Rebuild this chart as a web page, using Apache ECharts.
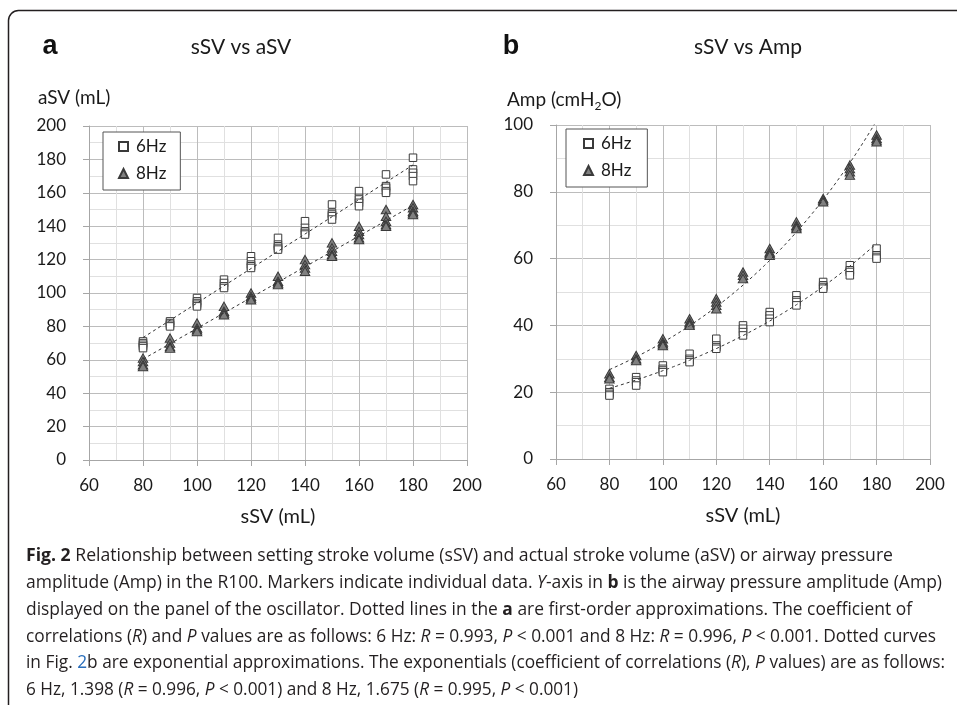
<!DOCTYPE html>
<html><head><meta charset="utf-8">
<script src="https://cdn.jsdelivr.net/npm/echarts@6/dist/echarts.min.js"></script>
<style>html,body{margin:0;padding:0;background:#fff}#c{width:957px;height:705px}</style>
</head><body><div id="c"></div>
<script>
// ---------- data ----------
const sSV = [80, 90, 100, 110, 120, 130, 140, 150, 160, 170, 180];
const aSV_6Hz = [
  [71, 70, 69, 68, 67], [83, 82, 81, 80], [97, 95, 94, 93, 92], [108, 106, 104, 103],
  [122, 119, 117, 116, 115], [133, 129, 128, 127, 126], [143, 139, 137, 136, 135],
  [153, 148, 147, 146, 144], [161, 157, 156, 154, 152], [171, 164, 163, 161, 160],
  [181, 174, 172, 170, 167]
];
const aSV_8Hz = [
  [61, 59, 57, 56], [73, 70, 68, 67], [82, 79, 78, 77], [92, 89, 88, 87],
  [100, 98, 97, 96], [110, 107, 106, 105], [120, 117, 115, 113],
  [130, 127, 125, 123, 122], [140, 137, 135, 133, 132], [150, 146, 143, 141, 140],
  [153, 151, 149, 148, 147]
];
const amp_6Hz = [
  [21, 20, 19.5, 19], [24.5, 23.5, 23, 22], [28, 27, 26.5, 26], [31.5, 30, 29.5, 29],
  [36, 34, 33.5, 33], [40, 39, 38, 37], [44, 43, 42, 41], [49, 47.5, 47, 46],
  [53, 52, 51.5, 51], [58, 56.5, 56, 55], [63, 61, 60.5, 60]
];
const amp_8Hz = [
  [25.5, 24.5, 24], [31, 30, 29.5], [36, 35, 34.5, 34], [42, 41, 40.5, 40],
  [48, 47, 46, 45], [56, 55, 54], [63, 62, 61.5, 61], [71, 70, 69.5, 69],
  [78, 77.5, 77], [88, 87, 86, 85], [97, 96, 95.5, 95]
];
const seriesNames = ['6Hz', '8Hz'];
const panelTitles = ['sSV vs aSV', 'sSV vs Amp'];
const panelLetters = ['a', 'b'];
const xAxisTitle = 'sSV (mL)';
const captionLines = [
  [['b', 'Fig. 2'], ['n', ' Relationship between setting stroke volume (sSV) and actual stroke volume (aSV) or airway pressure']],
  [['n', 'amplitude (Amp) in the R100. Markers indicate individual data. '], ['i', 'Y'], ['n', '-axis in '], ['b', 'b'], ['n', ' is the airway pressure amplitude (Amp)']],
  [['n', 'displayed on the panel of the oscillator. Dotted lines in the '], ['b', 'a'], ['n', ' are first-order approximations. The coefficient of']],
  [['n', 'correlations ('], ['i', 'R'], ['n', ') and '], ['i', 'P'], ['n', ' values are as follows: 6 Hz: '], ['i', 'R'], ['n', ' = 0.993, '], ['i', 'P'], ['n', ' < 0.001 and 8 Hz: '], ['i', 'R'], ['n', ' = 0.996, '], ['i', 'P'], ['n', ' < 0.001. Dotted curves']],
  [['n', 'in Fig. '], ['l', '2'], ['n', 'b are exponential approximations. The exponentials (coefficient of correlations ('], ['i', 'R'], ['n', '), '], ['i', 'P'], ['n', ' values) are as follows:']],
  [['n', '6 Hz, 1.398 ('], ['i', 'R'], ['n', ' = 0.996, '], ['i', 'P'], ['n', ' < 0.001) and 8 Hz, 1.675 ('], ['i', 'R'], ['n', ' = 0.995, '], ['i', 'P'], ['n', ' < 0.001)']]
];

// ---------- helpers ----------
function flatten(groups) {
  const out = [];
  groups.forEach((g, i) => g.forEach(v => out.push([sSV[i], v])));
  return out;
}
function linFit(pts) {
  const n = pts.length;
  let sx = 0, sy = 0, sxx = 0, sxy = 0;
  pts.forEach(([x, y]) => { sx += x; sy += y; sxx += x * x; sxy += x * y; });
  const b = (n * sxy - sx * sy) / (n * sxx - sx * sx);
  const a = (sy - b * sx) / n;
  return sSV.map(x => [x, a + b * x]);
}
function expFit(pts) {
  const lp = pts.map(([x, y]) => [x, Math.log(y)]);
  const n = lp.length;
  let sx = 0, sy = 0, sxx = 0, sxy = 0;
  lp.forEach(([x, y]) => { sx += x; sy += y; sxx += x * x; sxy += x * y; });
  const b = (n * sxy - sx * sy) / (n * sxx - sx * sx);
  const a = (sy - b * sx) / n;
  const out = [];
  for (let x = sSV[0]; x <= sSV[sSV.length - 1]; x += 2) out.push([x, Math.exp(a + b * x)]);
  return out;
}
const mctx = document.createElement('canvas').getContext('2d');
function tw(text, font) { mctx.font = font; return mctx.measureText(text).width; }

const TXT = '#1a1a1a';
const LAB = 'Lato';
const sq = { symbol: 'rect', symbolSize: 7.5, itemStyle: { color: '#ffffff', borderColor: '#3a3a3a', borderWidth: 1, opacity: 1 } };
const tri = { symbol: 'triangle', symbolSize: [9.5, 8.5], itemStyle: { color: '#808080', borderColor: '#3a3a3a', borderWidth: 1, opacity: 1 } };
const trendStyle = { color: '#333333', width: 1, type: [3, 3] };

function xAxisDef(gi) {
  return {
    type: 'value', gridIndex: gi, min: 60, max: 200, interval: 20,
    axisLine: { show: true, onZero: false, lineStyle: { color: '#a6a6a6', width: 1 } },
    axisTick: { show: true, length: 6, lineStyle: { color: '#a6a6a6' } },
    axisLabel: { margin: 17, fontSize: 17, fontFamily: LAB, color: TXT },
    splitLine: { show: true, lineStyle: { color: '#bcbcbc', width: 1 } },
    minorTick: { show: false, splitNumber: 2 },
    minorSplitLine: { show: true, lineStyle: { color: '#e0e0e0', width: 1 } },
    name: xAxisTitle, nameLocation: 'middle', nameGap: 47,
    nameTextStyle: { fontSize: 20, fontFamily: LAB, color: TXT }
  };
}
function yAxisDef(gi, max) {
  return {
    type: 'value', gridIndex: gi, min: 0, max: max, interval: 20,
    axisLine: { show: true, onZero: false, lineStyle: { color: '#a6a6a6', width: 1 } },
    axisTick: { show: true, length: 6, lineStyle: { color: '#a6a6a6' } },
    axisLabel: { margin: 23, fontSize: 17, fontFamily: LAB, color: TXT },
    splitLine: { show: true, lineStyle: { color: '#bcbcbc', width: 1 } },
    minorTick: { show: false, splitNumber: 2 },
    minorSplitLine: { show: true, lineStyle: { color: '#e0e0e0', width: 1 } }
  };
}
function legendDef(left, top, pad) {
  return {
    orient: 'vertical', left: left, top: top, padding: pad, itemGap: 10,
    itemWidth: 9, itemHeight: 9, backgroundColor: '#fff',
    borderColor: '#555', borderWidth: 1, borderRadius: 0,
    selectedMode: false,
    textStyle: { fontSize: 17, fontFamily: LAB, color: TXT, padding: [0, 0, 0, 3] },
    data: [{ name: seriesNames[0], icon: 'rect' }, { name: seriesNames[1], icon: 'triangle' }]
  };
}

// ---------- caption ----------
const CF = '"Open Sans"';
const CS = 17.5;
const fontFor = k => (k === 'i' ? 'italic ' : '') + (k === 'b' ? 'bold ' : '') + CS + 'px ' + CF;
const captionEnds = [893, 942, 912, 936, 945, 578];
const captionY = [556, 583, 610, 637, 663, 690];
const captionGraphics = captionLines.map((segs, li) => {
  let w = 0, str = '';
  segs.forEach(([k, t]) => { w += tw(t, fontFor(k)); str += (k === 'n' ? t : '{' + k + '|' + t + '}'); });
  const k = (captionEnds[li] - 26) / w;
  const base = { fontSize: CS, fontFamily: CF, fill: '#231f20' };
  return {
    type: 'text', x: 26, y: captionY[li], scaleX: k, silent: true,
    style: Object.assign({}, base, {
      text: str, verticalAlign: 'middle', align: 'left',
      rich: {
        b: Object.assign({}, base, { fontWeight: 'bold' }),
        i: Object.assign({}, base, { fontStyle: 'italic' }),
        l: Object.assign({}, base, { fill: '#2a6ebb' })
      }
    })
  };
});

// Amp (cmH2O) title with subscript
const yf = 19;
const ampParts = ['Amp (cmH', '2', 'O)'];
const w0 = tw(ampParts[0], yf + 'px ' + LAB), w1 = tw(ampParts[1], '12px ' + LAB);
const ampX = 507;

const chart = echarts.init(document.getElementById('c'), null, { renderer: 'canvas' });
chart.setOption({
  animation: false,
  backgroundColor: '#ffffff',
  grid: [
    { left: 89, top: 126, width: 378, height: 334 },
    { left: 556, top: 125, width: 374, height: 334 }
  ],
  xAxis: [xAxisDef(0), xAxisDef(1)],
  yAxis: [yAxisDef(0, 200), yAxisDef(1, 100)],
  legend: [legendDef(103, 132, [6, 14, 8, 15]), legendDef(566, 129, [6, 16, 8, 17])],
  series: [
    Object.assign({ type: 'scatter', name: seriesNames[0], xAxisIndex: 0, yAxisIndex: 0, data: flatten(aSV_6Hz), z: 3 }, sq),
    Object.assign({ type: 'scatter', name: seriesNames[1], xAxisIndex: 0, yAxisIndex: 0, data: flatten(aSV_8Hz), z: 3 }, tri),
    Object.assign({ type: 'scatter', name: seriesNames[0], xAxisIndex: 1, yAxisIndex: 1, data: flatten(amp_6Hz), z: 3 }, sq),
    Object.assign({ type: 'scatter', name: seriesNames[1], xAxisIndex: 1, yAxisIndex: 1, data: flatten(amp_8Hz), z: 3 }, tri),
    { type: 'line', name: 'trend a 6Hz', xAxisIndex: 0, yAxisIndex: 0, data: linFit(flatten(aSV_6Hz)), showSymbol: false, symbol: 'none', lineStyle: trendStyle, silent: true, z: 4 },
    { type: 'line', name: 'trend a 8Hz', xAxisIndex: 0, yAxisIndex: 0, data: linFit(flatten(aSV_8Hz)), showSymbol: false, symbol: 'none', lineStyle: trendStyle, silent: true, z: 4 },
    { type: 'line', name: 'trend b 6Hz', xAxisIndex: 1, yAxisIndex: 1, data: expFit(flatten(amp_6Hz)), showSymbol: false, symbol: 'none', lineStyle: trendStyle, silent: true, z: 4 },
    { type: 'line', name: 'trend b 8Hz', xAxisIndex: 1, yAxisIndex: 1, data: expFit(flatten(amp_8Hz)), showSymbol: false, symbol: 'none', lineStyle: trendStyle, silent: true, z: 4 }
  ],
  graphic: [
    { type: 'rect', silent: true, z: 0, shape: { x: 8.5, y: 10.5, width: 1200, height: 900, r: 10 }, style: { fill: 'none', stroke: '#231f20', lineWidth: 1.5 } },
    { type: 'text', x: 50, y: 47, style: { text: panelLetters[0], fontSize: 27, fontWeight: 'bold', fontFamily: 'Liberation Sans', fill: '#111', align: 'center', verticalAlign: 'middle' } },
    { type: 'text', x: 241, y: 47, style: { text: panelTitles[0], fontSize: 21, fontFamily: LAB, fill: TXT, align: 'center', verticalAlign: 'middle' } },
    { type: 'text', x: 511, y: 47, style: { text: panelLetters[1], fontSize: 27, fontWeight: 'bold', fontFamily: 'Liberation Sans', fill: '#111', align: 'center', verticalAlign: 'middle' } },
    { type: 'text', x: 748, y: 47, style: { text: panelTitles[1], fontSize: 21, fontFamily: LAB, fill: TXT, align: 'center', verticalAlign: 'middle' } },
    { type: 'text', x: 38, y: 98, style: { text: 'aSV (mL)', fontSize: yf, fontFamily: LAB, fill: TXT, align: 'left', verticalAlign: 'middle' } },
    { type: 'text', x: ampX, y: 100, style: { text: ampParts[0], fontSize: yf, fontFamily: LAB, fill: TXT, align: 'left', verticalAlign: 'middle' } },
    { type: 'text', x: ampX + w0, y: 106, style: { text: ampParts[1], fontSize: 12, fontFamily: LAB, fill: TXT, align: 'left', verticalAlign: 'middle' } },
    { type: 'text', x: ampX + w0 + w1, y: 100, style: { text: ampParts[2], fontSize: yf, fontFamily: LAB, fill: TXT, align: 'left', verticalAlign: 'middle' } }
  ].concat(captionGraphics)
});
</script>
</body></html>
